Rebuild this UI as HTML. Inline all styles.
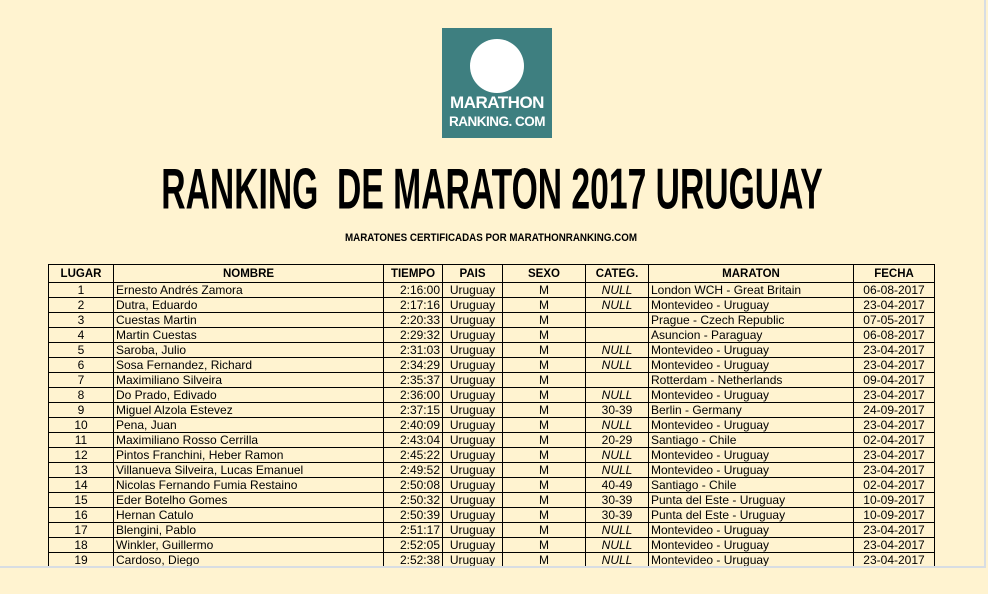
<!DOCTYPE html>
<html><head><meta charset="utf-8"><style>
html,body{margin:0;padding:0;}
body{width:988px;height:594px;background:#fff3d0;position:relative;overflow:hidden;font-family:"Liberation Sans",sans-serif;}
#frame{position:absolute;left:0;top:0;width:984px;height:566px;border-right:2px solid #d8dde3;border-bottom:2px solid #d8dde3;overflow:hidden;}
#logo{position:absolute;left:442px;top:28px;width:110px;height:110px;background:#3e7f80;}
.circ{position:absolute;left:28px;top:11px;width:54px;height:54px;border-radius:50%;background:#fff;}
.lt{position:absolute;left:0;width:110px;text-align:center;color:#fff;font-weight:bold;letter-spacing:-0.5px;}
#title{position:absolute;left:492px;top:158px;font-weight:bold;font-size:44px;transform:translateX(-50%) scale(0.765,1.3);transform-origin:top center;white-space:pre;}
#sub{position:absolute;left:491px;top:232px;font-weight:bold;font-size:11px;white-space:nowrap;transform:translateX(-50%) scaleX(0.89);}
table{position:absolute;left:48px;top:264px;border-collapse:collapse;font-size:12px;table-layout:fixed;}
td{border:1px solid #000;height:14px;padding:0 2px;line-height:14px;white-space:nowrap;overflow:hidden;}
tr.h td{height:17px;font-weight:bold;text-align:center;font-size:11.5px;}
.c{text-align:center}.r{text-align:right}.i{font-style:italic;text-align:center}
td:nth-child(4){text-align:center}
</style></head><body>
<div id="frame">
<div id="logo"><div class="circ"></div><div class="lt" style="top:65px;font-size:17px">MARATHON</div><div class="lt" style="top:86px;font-size:13.5px">RANKING. COM</div></div>
<div id="title">RANKING  DE MARATON 2017 URUGUAY</div>
<div id="sub">MARATONES CERTIFICADAS POR MARATHONRANKING.COM</div>
<table>
<colgroup><col style="width:65px"><col style="width:270px"><col style="width:59px"><col style="width:60px"><col style="width:83px"><col style="width:63px"><col style="width:205px"><col style="width:81px"></colgroup>
<tr class="h"><td>LUGAR</td><td>NOMBRE</td><td>TIEMPO</td><td>PAIS</td><td>SEXO</td><td>CATEG.</td><td>MARATON</td><td>FECHA</td></tr>
<tr><td class="c">1</td><td>Ernesto Andrés Zamora</td><td class="r">2:16:00</td><td>Uruguay</td><td class="c">M</td><td class="i">NULL</td><td>London WCH - Great Britain</td><td class="c">06-08-2017</td></tr>
<tr><td class="c">2</td><td>Dutra, Eduardo</td><td class="r">2:17:16</td><td>Uruguay</td><td class="c">M</td><td class="i">NULL</td><td>Montevideo - Uruguay</td><td class="c">23-04-2017</td></tr>
<tr><td class="c">3</td><td>Cuestas Martin</td><td class="r">2:20:33</td><td>Uruguay</td><td class="c">M</td><td></td><td>Prague - Czech Republic</td><td class="c">07-05-2017</td></tr>
<tr><td class="c">4</td><td>Martin Cuestas</td><td class="r">2:29:32</td><td>Uruguay</td><td class="c">M</td><td></td><td>Asuncion - Paraguay</td><td class="c">06-08-2017</td></tr>
<tr><td class="c">5</td><td>Saroba, Julio</td><td class="r">2:31:03</td><td>Uruguay</td><td class="c">M</td><td class="i">NULL</td><td>Montevideo - Uruguay</td><td class="c">23-04-2017</td></tr>
<tr><td class="c">6</td><td>Sosa Fernandez, Richard</td><td class="r">2:34:29</td><td>Uruguay</td><td class="c">M</td><td class="i">NULL</td><td>Montevideo - Uruguay</td><td class="c">23-04-2017</td></tr>
<tr><td class="c">7</td><td>Maximiliano Silveira</td><td class="r">2:35:37</td><td>Uruguay</td><td class="c">M</td><td></td><td>Rotterdam - Netherlands</td><td class="c">09-04-2017</td></tr>
<tr><td class="c">8</td><td>Do Prado, Edivado</td><td class="r">2:36:00</td><td>Uruguay</td><td class="c">M</td><td class="i">NULL</td><td>Montevideo - Uruguay</td><td class="c">23-04-2017</td></tr>
<tr><td class="c">9</td><td>Miguel Alzola Estevez</td><td class="r">2:37:15</td><td>Uruguay</td><td class="c">M</td><td class="c">30-39</td><td>Berlin - Germany</td><td class="c">24-09-2017</td></tr>
<tr><td class="c">10</td><td>Pena, Juan</td><td class="r">2:40:09</td><td>Uruguay</td><td class="c">M</td><td class="i">NULL</td><td>Montevideo - Uruguay</td><td class="c">23-04-2017</td></tr>
<tr><td class="c">11</td><td>Maximiliano Rosso Cerrilla</td><td class="r">2:43:04</td><td>Uruguay</td><td class="c">M</td><td class="c">20-29</td><td>Santiago - Chile</td><td class="c">02-04-2017</td></tr>
<tr><td class="c">12</td><td>Pintos Franchini, Heber Ramon</td><td class="r">2:45:22</td><td>Uruguay</td><td class="c">M</td><td class="i">NULL</td><td>Montevideo - Uruguay</td><td class="c">23-04-2017</td></tr>
<tr><td class="c">13</td><td>Villanueva Silveira, Lucas Emanuel</td><td class="r">2:49:52</td><td>Uruguay</td><td class="c">M</td><td class="i">NULL</td><td>Montevideo - Uruguay</td><td class="c">23-04-2017</td></tr>
<tr><td class="c">14</td><td>Nicolas Fernando Fumia Restaino</td><td class="r">2:50:08</td><td>Uruguay</td><td class="c">M</td><td class="c">40-49</td><td>Santiago - Chile</td><td class="c">02-04-2017</td></tr>
<tr><td class="c">15</td><td>Eder Botelho Gomes</td><td class="r">2:50:32</td><td>Uruguay</td><td class="c">M</td><td class="c">30-39</td><td>Punta del Este - Uruguay</td><td class="c">10-09-2017</td></tr>
<tr><td class="c">16</td><td>Hernan Catulo</td><td class="r">2:50:39</td><td>Uruguay</td><td class="c">M</td><td class="c">30-39</td><td>Punta del Este - Uruguay</td><td class="c">10-09-2017</td></tr>
<tr><td class="c">17</td><td>Blengini, Pablo</td><td class="r">2:51:17</td><td>Uruguay</td><td class="c">M</td><td class="i">NULL</td><td>Montevideo - Uruguay</td><td class="c">23-04-2017</td></tr>
<tr><td class="c">18</td><td>Winkler, Guillermo</td><td class="r">2:52:05</td><td>Uruguay</td><td class="c">M</td><td class="i">NULL</td><td>Montevideo - Uruguay</td><td class="c">23-04-2017</td></tr>
<tr><td class="c">19</td><td>Cardoso, Diego</td><td class="r">2:52:38</td><td>Uruguay</td><td class="c">M</td><td class="i">NULL</td><td>Montevideo - Uruguay</td><td class="c">23-04-2017</td></tr>
</table>
</div>
</body></html>
